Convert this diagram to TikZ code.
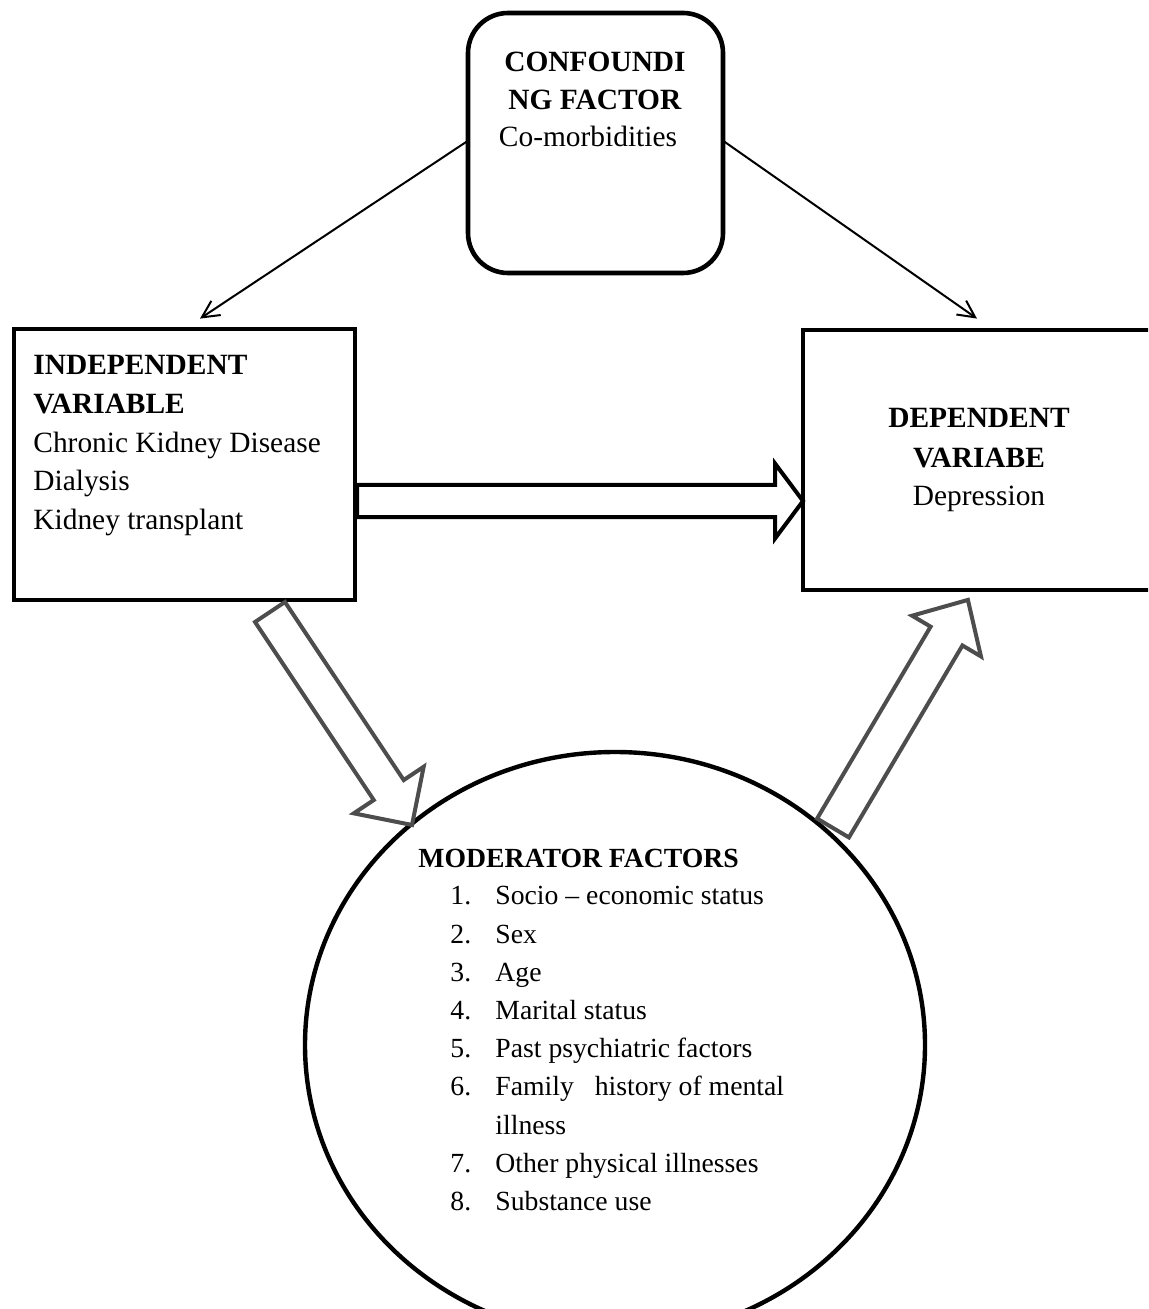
\documentclass[tikz,border=0pt]{standalone}
\usepackage{fontspec}
\setmainfont{Liberation Serif}
\usetikzlibrary{arrows.meta}
\definecolor{arrowgray}{RGB}{77,77,77}
\newcommand\blockarrow[7]{%
  % #1 tail, #2 angle, #3 length, #4 shaft half, #5 head half, #6 head length, #7 style
  \begin{scope}[shift={#1}, rotate=#2]
    \draw[#7] (0,-#4) -- ({#3-#6},-#4) -- ({#3-#6},-#5) -- (#3,0) -- ({#3-#6},#5) -- ({#3-#6},#4) -- (0,#4) -- cycle;
  \end{scope}}
\begin{document}
\begin{tikzpicture}[x=0.5pt,y=-0.5pt,
  txt/.style={anchor=base west, inner sep=0pt, font=\fontsize{13.85}{16}\selectfont},
  btxt/.style={anchor=base west, inner sep=0pt, font=\fontsize{14.7}{17}\selectfont},
  ctxt/.style={anchor=base, inner sep=0pt, font=\fontsize{14.7}{17}\selectfont},
  boxline/.style={draw=black, line width=2.3pt},
  thin/.style={draw=black, line width=1pt, -{Straight Barb[length=8.5pt,width=8.5pt,line width=1pt]}},
  blackarrow/.style={draw=black, fill=white, line width=2pt, line join=miter},
  grayarrow/.style={draw=arrowgray, fill=white, line width=2pt, line join=miter}]
\useasboundingbox (0,0) rectangle (1148,1309);
\clip (0,0) rectangle (1148,1309);
\fill[white] (0,0) rectangle (1148,1309);

% boxes
\draw[boxline, rounded corners=20pt] (468,13) rectangle (723,273);
\node[inner sep=0pt, minimum width=127.5pt, minimum height=130pt] (conf) at (595.5,141) {};
\draw[boxline] (14,329) rectangle (355,600);
\node[inner sep=0pt, minimum width=170.5pt, minimum height=135.5pt] (ind) at (184.5,464.5) {};
\draw[boxline] (803,330) rectangle (1155,590);
\node[inner sep=0pt, minimum width=176pt, minimum height=130pt] (dep) at (979,460) {};
\draw[black, line width=2.2pt] (615,1045) ellipse [x radius=310, y radius=293];
\node[inner sep=0pt, minimum width=310pt, minimum height=293pt] (mod) at (615,1045) {};

% confounding text
\node[ctxt] (c1) at (595,72) {\textbf{CONFOUNDI}};
\node[ctxt] (c2) at (595,110) {\textbf{NG FACTOR}};
\node[ctxt] (c3) at (588,147) {Co-morbidities};

% independent text
\node[btxt] (i1) at (33,375) {\textbf{INDEPENDENT}};
\node[btxt] (i2) at (33,414) {\textbf{VARIABLE}};
\node[btxt] (i3) at (33,453) {Chronic Kidney Disease};
\node[btxt] (i4) at (33,491) {Dialysis};
\node[btxt] (i5) at (33,530) {Kidney transplant};

% dependent text
\node[ctxt] (d1) at (979,428) {\textbf{DEPENDENT}};
\node[ctxt] (d2) at (979,467) {\textbf{VARIABE}};
\node[ctxt] (d3) at (979,505) {Depression};

% moderator text
\node[txt] (m0) at (418,867) {\textbf{MODERATOR FACTORS}};
\node[txt] (n1) at (450,904) {1.};  \node[txt] (m1) at (495,904) {Socio – economic status};
\node[txt] (n2) at (450,943) {2.};  \node[txt] (m2) at (495,943) {Sex};
\node[txt] (n3) at (450,981) {3.};  \node[txt] (m3) at (495,981) {Age};
\node[txt] (n4) at (450,1019) {4.}; \node[txt] (m4) at (495,1019) {Marital status};
\node[txt] (n5) at (450,1057) {5.}; \node[txt] (m5) at (495,1057) {Past psychiatric factors};
\node[txt] (n6) at (450,1095) {6.}; \node[txt] (m6) at (495,1095) {Family\hspace{7pt} history of mental};
\node[txt] (m6b) at (495,1134) {illness};
\node[txt] (n7) at (450,1172) {7.}; \node[txt] (m7) at (495,1172) {Other physical illnesses};
\node[txt] (n8) at (450,1210) {8.}; \node[txt] (m8) at (495,1210) {Substance use};

% thin arrows
\draw[thin] (conf.west) -- ([shift={(7.75pt,5pt)}]ind.north);
\draw[thin] (conf.east) -- ([shift={(-1pt,5.5pt)}]dep.north);

% block arrows
\blockarrow{(357,501)}{0}{446}{16}{37.5}{28}{blackarrow}
\blockarrow{(270,612)}{-56.3}{256}{18}{42}{42}{grayarrow}
\blockarrow{(833,828)}{59.4}{265}{18.5}{40}{42}{grayarrow}
\end{tikzpicture}
\end{document}
